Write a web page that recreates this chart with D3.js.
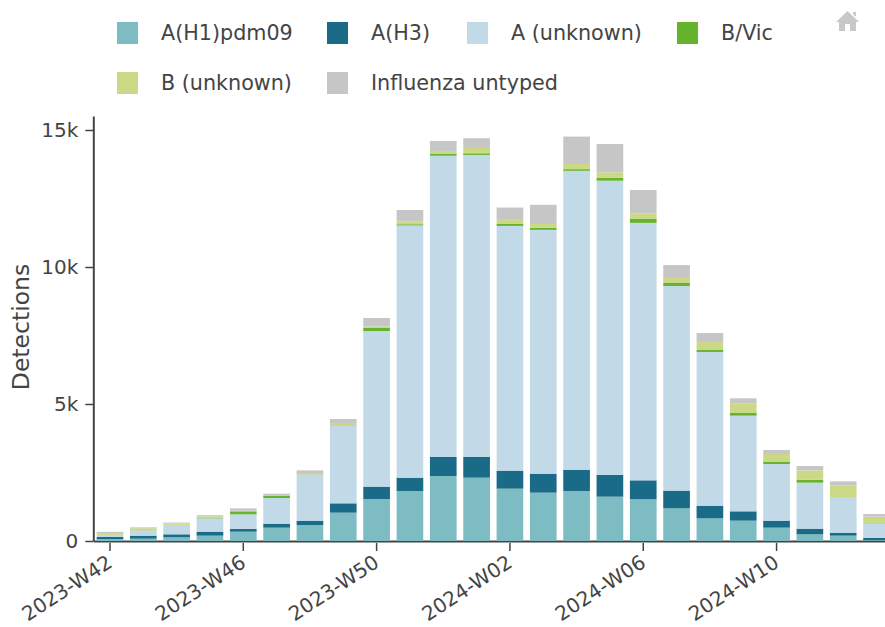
<!DOCTYPE html>
<html>
<head>
<meta charset="utf-8">
<script src="https://cdn.jsdelivr.net/npm/d3@7"></script>
<style>
  html, body { margin: 0; padding: 0; background: #fff; overflow: hidden; }
  text { font-family: "DejaVu Sans", sans-serif; fill: #444; }
</style>
</head>
<body>
<div id="chart"></div>
<script>
// weeks on the x axis
var weeks = ["2023-W42","2023-W43","2023-W44","2023-W45","2023-W46","2023-W47","2023-W48","2023-W49","2023-W50","2023-W51","2023-W52",
  "2024-W01","2024-W02","2024-W03","2024-W04","2024-W05","2024-W06","2024-W07","2024-W08","2024-W09","2024-W10","2024-W11","2024-W12","2024-W13"];
var weekTicks = ["2023-W42","2023-W46","2023-W50","2024-W02","2024-W06","2024-W10"];
var yTicks = [0, 5000, 10000, 15000];

// detections per series
var h1pdm = [70,85,134,195,340,487,584,1034,1533,1825,2372,2311,1910,1765,1825,1618,1521,1192,827,742,487,243,195,30];
var h3 = [76,110,110,146,97,146,158,341,450,487,694,755,657,692,778,791,693,645,462,341,255,207,97,80];
var aUnknown = [73,183,340,487,535,937,1630,2847,5681,9203,10996,11024,8933,8898,10907,10741,9396,7470,5611,3491,2068,1679,1289,535];
var bVic = [5,10,10,12,110,73,10,10,110,45,62,60,70,75,60,110,155,109,70,98,73,109,9,10];
var bUnknown = [36,75,45,63,20,37,50,75,55,100,111,195,150,140,190,195,185,184,290,340,292,341,441,233];
var untyped = [75,35,35,37,88,49,146,146,310,420,365,355,450,700,1000,1035,860,470,330,195,146,158,146,97];

var seriesNames = ["A(H1)pdm09","A(H3)","A (unknown)","B/Vic","B (unknown)","Influenza untyped"];
var seriesValues = [h1pdm, h3, aUnknown, bVic, bUnknown, untyped];
var seriesColors = ["#7cbcc2","#1a6b87","#c2d9e7","#66b32e","#cbd987","#c6c6c6"];

var W = 885, H = 627;
var margin = {top: 116, left: 93.3, bottom: 86};

var rows = weeks.map(function(w, i) {
  var r = {week: w};
  seriesNames.forEach(function(n, j) { r[n] = seriesValues[j][i]; });
  return r;
});
var stacked = d3.stack().keys(seriesNames)(rows);

var x = d3.scaleBand().domain(weeks)
  .range([margin.left, margin.left + 33.33 * weeks.length])
  .paddingInner(0.2).paddingOuter(0.1);
var y = d3.scaleLinear().domain([0, 15000 * (H - margin.bottom - margin.top) / 411])
  .range([H - margin.bottom, margin.top]);

var svg = d3.select("#chart").append("svg")
  .attr("width", W).attr("height", H)
  .style("display", "block");

// axes first, the bars sit on top of the x line
var xAxis = svg.append("g")
  .attr("transform", "translate(0," + (H - margin.bottom) + ")")
  .call(d3.axisBottom(x).tickValues(weekTicks).tickSize(10).tickSizeOuter(0).tickPadding(8));
xAxis.select(".domain").attr("stroke", "#444").attr("stroke-width", 2);
xAxis.selectAll(".tick line").attr("stroke", "#444").attr("stroke-width", 1.5).attr("y1", 2);
xAxis.selectAll(".tick text")
  .attr("font-size", 20)
  .attr("text-anchor", "end")
  .attr("dx", 0).attr("dy", 8)
  .attr("transform", "rotate(-33 0 19)");

var yAxis = svg.append("g")
  .attr("transform", "translate(" + margin.left + ",0)")
  .call(d3.axisLeft(y).tickValues(yTicks).tickSize(8).tickSizeOuter(0).tickPadding(7)
    .tickFormat(function(d) { return d === 0 ? "0" : d / 1000 + "k"; }));
yAxis.select(".domain").attr("stroke", "#444").attr("stroke-width", 2);
yAxis.selectAll(".tick line").attr("stroke", "#444").attr("stroke-width", 1.5);
yAxis.selectAll(".tick text").attr("font-size", 20);

svg.append("text")
  .attr("transform", "translate(29,327) rotate(-90)")
  .attr("text-anchor", "middle")
  .attr("font-size", 23.5)
  .text("Detections");

// stacked bars
svg.append("g").selectAll("g")
  .data(stacked)
  .enter().append("g")
  .attr("fill", function(d, i) { return seriesColors[i]; })
  .selectAll("rect")
  .data(function(d) { return d; })
  .enter().append("rect")
  .attr("x", function(d) { return x(d.data.week); })
  .attr("width", x.bandwidth())
  .attr("y", function(d) { return y(d[1]); })
  .attr("height", function(d) { return y(d[0]) - y(d[1]); });

// legend, two rows
var legendX = [117, 327, 467, 677, 117, 327];
var legendY = [33, 33, 33, 33, 83, 83];
var legend = svg.append("g").selectAll("g")
  .data(seriesNames)
  .enter().append("g")
  .attr("transform", function(d, i) { return "translate(" + legendX[i] + "," + legendY[i] + ")"; });
legend.append("rect")
  .attr("y", -11).attr("width", 21).attr("height", 22)
  .attr("fill", function(d, i) { return seriesColors[i]; });
legend.append("text")
  .attr("x", 44).attr("dy", "0.35em")
  .attr("font-size", 20.7)
  .text(function(d) { return d; });

// home icon in the corner
svg.append("path")
  .attr("transform", "translate(836,11)")
  .attr("fill", "#c8c8c8")
  .attr("d", "M11.5 0 L23 11 L20 11 L20 20 L14 20 L14 13 L9 13 L9 20 L3 20 L3 11 L0 11 Z M17 1 L20 1 L20 6 L17 3 Z");
</script>
</body>
</html>
